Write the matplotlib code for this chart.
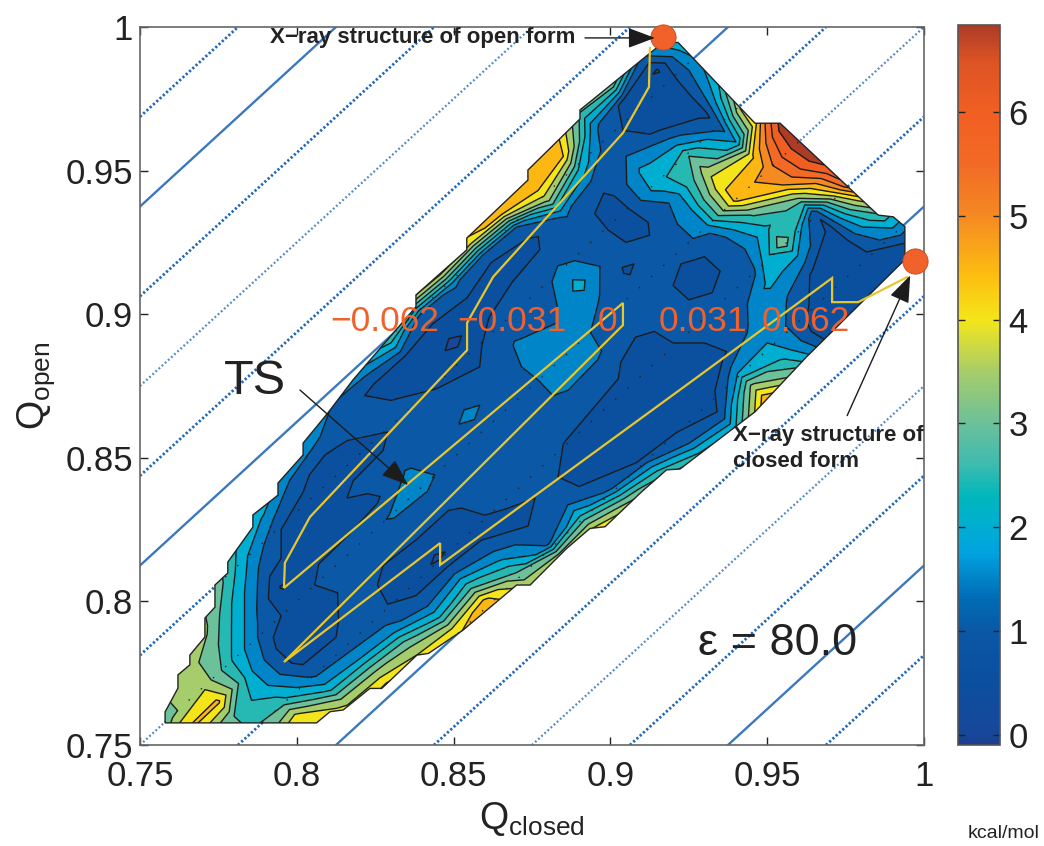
import matplotlib
matplotlib.use("Agg")
import matplotlib.pyplot as plt
import numpy as np
from matplotlib.cm import ScalarMappable
from matplotlib.colors import LinearSegmentedColormap, Normalize
from matplotlib.patches import Polygon

plt.rcParams["font.family"] = ["Liberation Sans", "DejaVu Sans"]
plt.rcParams["mathtext.fontset"] = "custom"
plt.rcParams["mathtext.rm"] = "Liberation Sans"
plt.rcParams["mathtext.default"] = "rm"

# energy map, on a grid rotated along the diagonal:
# one row per Qopen+Qclosed, one column per Qopen-Qclosed
SUMS = [1.50, 1.52, 1.54, 1.56, 1.58, 1.60, 1.62, 1.64, 1.66, 1.68, 1.70, 1.72,
        1.74, 1.76, 1.78, 1.80, 1.82, 1.84, 1.86, 1.88, 1.90, 1.92, 1.94]
DIFFS = [-0.08, -0.07, -0.06, -0.05, -0.04, -0.03, -0.02, -0.01, 0.0,
         0.01, 0.02, 0.03, 0.04, 0.05, 0.06, 0.07, 0.08, 0.09]
ENERGY = [
    [4.0, 4.0, 4.0, 4.0, 4.0, 4.0, 3.6, 3.4, 3.3, 3.3, 3.3, 3.3, 3.3, 3.3, 3.3, 3.3, 3.3, 3.3],
    [4.5, 4.5, 4.5, 4.5, 4.5, 3.2, 3.5, 4.6, 3.4, 3.4, 3.4, 3.4, 3.4, 3.4, 3.4, 3.4, 3.4, 3.4],
    [5.0, 5.0, 5.0, 5.0, 3.6, 3.0, 3.0, 4.6, 3.9, 3.8, 3.8, 3.8, 3.8, 3.8, 3.8, 3.8, 3.8, 3.8],
    [5.0, 5.0, 5.0, 4.7, 4.2, 2.7, 2.1, 2.1, 2.4, 3.0, 3.7, 3.8, 3.8, 3.8, 3.8, 3.8, 3.8, 3.8],
    [5.0, 5.0, 4.7, 3.8, 2.2, 1.3, 0.8, 0.8, 1.2, 1.8, 2.4, 3.2, 3.5, 3.5, 3.5, 3.5, 3.5, 3.5],
    [5.0, 5.0, 4.9, 3.6, 2.0, 1.1, 0.9, 0.8, 0.8, 0.45, 1.2, 1.9, 2.6, 3.3, 3.5, 3.5, 3.5, 3.5],
    [5.0, 5.0, 4.3, 3.3, 1.7, 1.1, 1.2, 1.05, 1.15, 0.9, 0.8, 1.0, 1.9, 3.0, 3.2, 3.2, 3.2, 3.2],
    [5.0, 5.0, 4.2, 2.3, 1.1, 0.85, 0.85, 1.15, 1.2, 0.9, 0.85, 0.85, 1.1, 2.0, 2.8, 3.0, 3.0, 3.0],
    [5.0, 5.0, 4.7, 2.8, 1.4, 0.4, 0.85, 1.3, 1.55, 0.9, 1.1, 0.85, 0.85, 1.6, 2.4, 3.0, 3.0, 3.0],
    [5.0, 4.0, 3.0, 1.9, 1.05, 0.85, 0.95, 1.1, 1.7, 1.55, 1.1, 0.9, 1.1, 1.2, 1.6, 2.5, 3.0, 3.0],
    [5.0, 4.4, 1.4, 1.05, 0.85, 1.15, 1.15, 1.15, 1.2, 1.2, 1.15, 1.15, 1.0, 0.9, 1.8, 3.0, 3.0, 3.0],
    [5.0, 4.2, 2.4, 1.15, 1.1, 1.15, 1.15, 1.2, 1.2, 1.65, 1.2, 0.98, 0.9, 0.85, 2.5, 4.0, 4.5, 4.5],
    [5.0, 3.3, 1.25, 0.85, 0.8, 1.0, 1.15, 1.2, 1.15, 1.2, 1.05, 0.9, 0.35, 0.85, 1.3, 4.3, 5.0, 5.0],
    [4.0, 2.6, 0.95, 0.85, 0.85, 0.95, 1.15, 1.65, 1.65, 1.65, 1.55, 1.15, 0.95, 0.9, 1.6, 4.6, 4.8, 5.0],
    [3.0, 1.5, 0.85, 0.8, 0.85, 0.95, 1.05, 1.6, 1.7, 1.7, 1.2, 1.15, 1.05, 0.85, 1.1, 4.3, 5.0, 5.0],
    [2.5, 1.1, 0.6, 0.85, 0.8, 0.85, 0.9, 1.15, 1.15, 1.6, 2.2, 1.7, 1.15, 0.85, 1.4, 4.7, 5.0, 5.0],
    [5.0, 3.6, 1.8, 0.85, 1.0, 1.15, 1.15, 1.15, 1.15, 0.95, 1.15, 1.15, 1.15, 1.6, 3.7, 5.0, 5.0, 5.0],
    [3.2, 2.4, 2.0, 1.6, 1.15, 1.15, 0.85, 0.85, 1.15, 1.15, 0.85, 0.8, 0.85, 1.2, 2.4, 4.5, 5.2, 5.2],
    [1.0, 0.85, 1.15, 1.6, 2.1, 1.3, 1.15, 1.15, 1.7, 1.7, 1.6, 2.3, 2.1, 1.5, 1.1, 1.6, 3.0, 5.0],
    [1.0, 0.85, 0.7, 0.9, 1.9, 3.4, 2.4, 3.1, 4.7, 4.4, 3.7, 3.0, 1.7, 0.85, 0.85, 0.8, 3.5, 4.0],
    [1.0, 0.85, 0.8, 0.85, 0.85, 1.1, 3.4, 5.0, 5.2, 4.4, 2.0, 1.3, 0.85, 0.85, 0.8, 0.45, 1.5, 2.0],
    [0.9, 1.0, 2.0, 3.0, 4.2, 5.8, 6.3, 6.8, 6.9, 6.8, 5.8, 5.5, 4.0, 2.7, 2.2, 2.7, 2.8, 3.0],
    [0.9, 1.0, 2.0, 3.0, 4.0, 5.5, 6.0, 6.0, 6.0, 6.0, 5.5, 5.5, 4.0, 3.0, 3.0, 3.0, 3.0, 3.0],
]

# outline of the sampled region, staircase included
EDGE_CLOSED = [0.758, 0.8063, 0.8106, 0.8148, 0.8233, 0.8271, 0.8383, 0.8420, 0.8530, 0.8701,
               0.8744, 0.8861, 0.8935, 0.8983, 0.9100, 0.9179, 0.9222, 0.9461, 0.9626, 0.9939,
               0.9939, 0.9902, 0.9854, 0.9541, 0.9461, 0.9216, 0.9168, 0.8903, 0.8903, 0.8737,
               0.8737, 0.8542, 0.8542, 0.838, 0.838, 0.8179, 0.8099, 0.802, 0.802, 0.794,
               0.794, 0.786, 0.786, 0.778, 0.778, 0.7739, 0.7739, 0.7707, 0.7707, 0.7659,
               0.7659, 0.7621, 0.7621, 0.758]
EDGE_OPEN = [0.7577, 0.7577, 0.7616, 0.7622, 0.7697, 0.7697, 0.7813, 0.7819, 0.7900, 0.8057,
             0.8057, 0.8185, 0.8254, 0.8260, 0.8382, 0.8458, 0.8461, 0.8660, 0.8852, 0.9190,
             0.9305, 0.9339, 0.9345, 0.9665, 0.9665, 0.9946, 0.9946, 0.9711, 0.9680, 0.9502,
             0.9467, 0.9265, 0.9224, 0.9067, 0.9026, 0.8771, 0.8656, 0.8551, 0.851, 0.8412,
             0.837, 0.8301, 0.8259, 0.8137, 0.8099, 0.8057, 0.798, 0.7942, 0.7876, 0.7813,
             0.7779, 0.7744, 0.7698, 0.7615]

PATH_CLOSED = [0.9126, 0.9123, 0.904, 0.8626, 0.8543, 0.8543, 0.8042, 0.7962, 0.7959, 0.904,
               0.904, 0.7959, 0.8457, 0.8457, 0.9286, 0.9707, 0.9707, 0.979, 0.9946]
PATH_OPEN = [0.9927, 0.9791, 0.9631, 0.913, 0.897, 0.8875, 0.8294, 0.8134, 0.8047, 0.9039,
             0.8962, 0.7789, 0.8203, 0.8127, 0.8788, 0.9126, 0.9042, 0.9042, 0.9129]

XRAY_CLOSED = [0.9168, 0.9971]
XRAY_OPEN = [0.9965, 0.9185]

SOLID_DIFFS = [0.1875, 0.0625, -0.0625, -0.1875]
THICK_DOT_DIFFS = [0.21875, 0.15625, 0.09375, 0.03125, -0.03125, -0.09375, -0.15625, -0.21875]
THIN_DOT_DIFFS = [0.125, 0.0, -0.125]
INNER_DOT_DIFFS = [-0.0625, -0.03125, 0.0, 0.03125, 0.0625]

RC_LABELS = ["\u22120.062", "\u22120.031", "0", "0.031", "0.062"]
RC_LABEL_CLOSED = [0.8281, 0.8686, 0.8989, 0.9295, 0.9624]

X_TICKS = [0.75, 0.8, 0.85, 0.9, 0.95, 1]
Y_TICKS = [0.75, 0.8, 0.85, 0.9, 0.95, 1]
X_TICK_LABELS = ["0.75", "0.8", "0.85", "0.9", "0.95", "1"]
Y_TICK_LABELS = ["0.75", "0.8", "0.85", "0.9", "0.95", "1"]
BAR_TICKS = [0, 1, 2, 3, 4, 5, 6]
LEVELS = [0, 0.5, 1, 1.5, 2, 2.5, 3, 3.5, 4, 4.5, 5, 5.5, 6, 6.5, 7]

BAR_MIN, BAR_MAX = -0.1, 6.84
ANCHORS = [(-0.1, "#1c3f90"), (0.0, "#17479a"), (0.5, "#0b4f9f"), (1.0, "#0b58a6"),
           (1.3, "#006cb5"), (1.75, "#00a2e0"), (2.0, "#00aed2"), (2.3, "#00b7bb"),
           (2.6, "#3dbbb0"), (3.0, "#6cc09a"), (3.5, "#a6cd6a"), (4.0, "#f4e61a"),
           (4.4, "#fdc010"), (5.0, "#f58a22"), (5.5, "#f26a25"), (6.0, "#f15f22"),
           (6.5, "#dd5325"), (6.84, "#ad3c26")]


def main():
    cmap = LinearSegmentedColormap.from_list(
        "energy", [((v - BAR_MIN) / (BAR_MAX - BAR_MIN), c) for v, c in ANCHORS])
    norm = Normalize(BAR_MIN, BAR_MAX)
    # each band takes the colour of its lower level, top band the end of the bar
    band_colors = [cmap(norm(v)) for v in LEVELS[:-2]] + [cmap(1.0)]

    fig = plt.figure(figsize=(10.44, 8.46), dpi=100)
    ax = fig.add_axes([140 / 1044, 1 - 745 / 846, 784 / 1044, 718 / 846])

    # background diagonals
    for d in SOLID_DIFFS:
        ax.axline((0.75, 0.75 + d), slope=1, color="#3b78bd", lw=1.7, zorder=1)
    for d in THICK_DOT_DIFFS:
        ax.axline((0.75, 0.75 + d), slope=1, color="#1f68b8", lw=2.0,
                  ls=(0, (0.8, 0.8)), zorder=1)
    for d in THIN_DOT_DIFFS:
        ax.axline((0.75, 0.75 + d), slope=1, color="#4a86c8", lw=1.6,
                  ls=(0, (0.8, 1.1)), zorder=1)

    # contour map, clipped to the sampled region
    sums, diffs = np.meshgrid(SUMS, DIFFS, indexing="ij")
    closed = (sums - diffs) / 2
    opened = (sums + diffs) / 2
    region = Polygon(np.column_stack([EDGE_CLOSED, EDGE_OPEN]), closed=True,
                     fc="none", ec="#222222", lw=1.0, zorder=5)
    ax.add_patch(region)
    filled = ax.contourf(closed, opened, np.array(ENERGY), levels=LEVELS, colors=band_colors,
                         zorder=2)
    lines = ax.contour(closed, opened, np.array(ENERGY), levels=LEVELS, colors="#1c1c1c",
                       linewidths=1.0, zorder=3)
    filled.set_clip_path(region)
    lines.set_clip_path(region)

    for d in INNER_DOT_DIFFS:
        ln = ax.axline((0.75, 0.75 + d), slope=1, color="#222222", lw=0.9,
                       ls=(0, (1.2, 12)), zorder=4)
        ln.set_clip_path(region)

    ax.plot(PATH_CLOSED, PATH_OPEN, color="#e9c62c", lw=1.6, zorder=6, solid_joinstyle="miter")
    ax.scatter(XRAY_CLOSED, XRAY_OPEN, s=330, color="#f0622a", edgecolors="#c04a20",
               linewidths=0.6, zorder=8, clip_on=False)

    for label, x in zip(RC_LABELS, RC_LABEL_CLOSED):
        ax.text(x, 0.8976, label, color="#f0622c", fontsize=25.5, ha="center",
                va="center", zorder=9)

    head = dict(arrowstyle="-|>,head_length=1.2,head_width=0.45", color="#1c1c1c",
                lw=1.0, shrinkA=0, shrinkB=0, mutation_scale=14)
    ax.text(0.7915, 0.9962, "X\u2212ray structure of open form", fontsize=16,
            fontweight="bold", color="#222222", va="center", ha="left", zorder=9)
    ax.annotate("", xy=(0.9142, 0.9962), xytext=(0.8919, 0.9962), arrowprops=head, zorder=9)
    ax.text(0.9391, 0.8614, "X\u2212ray structure of\nclosed form", fontsize=16,
            fontweight="bold", color="#222222", va="top", ha="left", linespacing=1.3,
            zorder=9, clip_on=False)
    ax.annotate("", xy=(0.9956, 0.9135), xytext=(0.9755, 0.8647), arrowprops=head, zorder=9)
    ax.text(0.7867, 0.8767, "TS", fontsize=35, color="#222222", ha="center", va="center", zorder=9)
    ax.annotate("", xy=(0.8355, 0.8405), xytext=(0.801, 0.8736), arrowprops=head, zorder=9)
    ax.text(0.9534, 0.7855, "\u03b5 = 80.0", fontsize=32.5, color="#222222", ha="center", va="center")

    ax.set_xlim(0.75, 1)
    ax.set_ylim(0.75, 1)
    ax.set_xticks(X_TICKS, X_TICK_LABELS)
    ax.set_yticks(Y_TICKS, Y_TICK_LABELS)
    ax.tick_params(direction="in", length=6, width=1, top=True, right=True,
                   labelsize=25, colors="#222222", pad=5)
    ax.tick_params(axis="x", pad=11)
    for spine in ax.spines.values():
        spine.set_color("#666666")
        spine.set_linewidth(1.2)
    ax.set_xlabel(r"$\mathrm{Q}_{\mathrm{closed}}$", fontsize=27, color="#222222", labelpad=5)
    ax.set_ylabel(r"$\mathrm{Q}_{\mathrm{open}}$", fontsize=27, color="#222222", labelpad=6)

    # colour bar
    cax = fig.add_axes([958 / 1044, 1 - 745 / 846, 42 / 1044, 720 / 846])
    bar = fig.colorbar(ScalarMappable(norm=norm, cmap=cmap), cax=cax, ticks=BAR_TICKS)
    cax.tick_params(direction="in", length=5, width=1, left=True, right=True,
                    labelsize=25, colors="#222222", pad=6)
    bar.outline.set_edgecolor("#555555")
    bar.outline.set_linewidth(1.2)
    fig.text(1004 / 1044, 1 - 833 / 846, "kcal/mol", fontsize=14, color="#222222",
             ha="center", va="center")

    fig.savefig("out.png", dpi=100)
    plt.close(fig)


if __name__ == "__main__":
    main()
